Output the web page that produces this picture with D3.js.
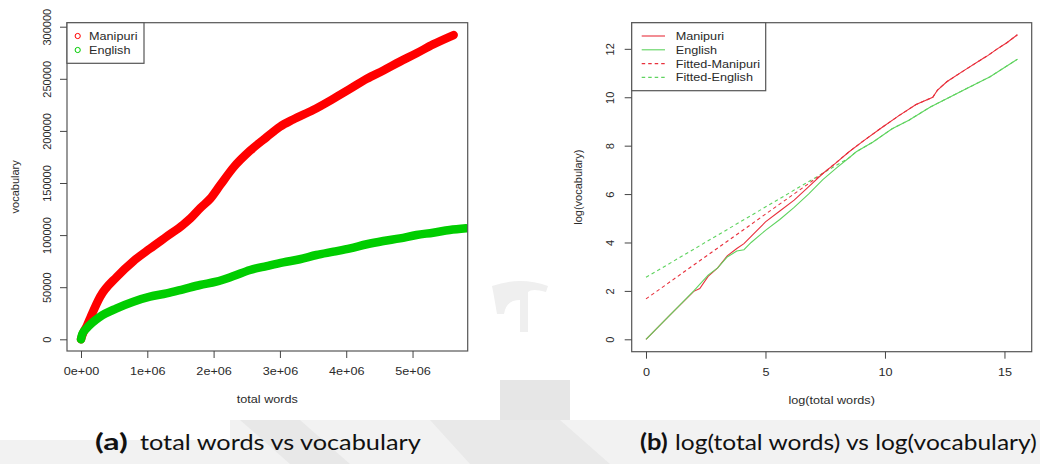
<!DOCTYPE html>
<html>
<head>
<meta charset="utf-8">
<script src="https://cdn.jsdelivr.net/npm/d3@7"></script>
<style>
  body { margin: 0; background: #fff; }
  svg { display: block; }
</style>
</head>
<body>
<svg id="chart" width="1040" height="464"></svg>
<script>
// ---- data ----

// (a) total words vs vocabulary
const manipuriWords = [0, 20000, 90000, 150000, 290000, 540000, 790000, 1040000, 1290000, 1540000, 1650000, 1800000, 1950000, 2100000, 2300000, 2550000, 2800000, 3000000, 3200000, 3500000, 3810000, 4050000, 4310000, 4560000, 4810000, 5060000, 5310000, 5620000];
const manipuriVocab = [0, 4000, 13000, 22000, 41000, 60000, 75000, 87000, 98500, 110000, 116000, 126000, 135000, 148000, 165000, 181000, 194000, 204000, 211000, 220000, 231000, 240000, 250000, 258000, 266500, 274500, 283000, 292000];

const englishWords = [0, 20000, 85000, 287000, 538000, 789000, 1040000, 1290000, 1540000, 1795000, 2040000, 2300000, 2550000, 2800000, 3050000, 3300000, 3550000, 3810000, 4060000, 4310000, 4560000, 4810000, 5060000, 5310000, 5560000, 5810000];
const englishVocab = [0, 5000, 10500, 21700, 29700, 36100, 40900, 44100, 48000, 52100, 55300, 60700, 66500, 70300, 73900, 76800, 80900, 84100, 87300, 91200, 94300, 96900, 100100, 102300, 104900, 106500];

// (b) log(total words) vs log(vocabulary)
const manipuriLogX = [0, 1, 2, 2.25, 2.6, 3.0, 3.4, 3.8, 4.1, 4.4, 5.0, 5.6, 6.2, 6.8, 7.4, 7.9, 8.5, 9.1, 9.8, 10.6, 11.3, 12.0, 12.2, 12.6, 13.3, 14.1, 14.3, 14.7, 15.1, 15.54];
const manipuriLogY = [0, 1.0, 1.98, 2.1, 2.6, 2.95, 3.45, 3.75, 3.95, 4.25, 4.85, 5.3, 5.75, 6.3, 6.85, 7.25, 7.75, 8.2, 8.7, 9.25, 9.7, 10.0, 10.3, 10.65, 11.1, 11.6, 11.72, 12.0, 12.25, 12.58];

const englishLogX = [0, 1, 2, 2.6, 3.0, 3.4, 3.8, 4.1, 4.4, 5.0, 5.6, 6.2, 6.8, 7.4, 8.0, 8.5, 8.8, 9.5, 10.3, 11.0, 11.9, 12.6, 13.4, 14.4, 15.54];
const englishLogY = [0, 1.0, 2.0, 2.65, 2.95, 3.4, 3.65, 3.7, 4.0, 4.5, 4.95, 5.45, 6.0, 6.6, 7.1, 7.5, 7.75, 8.15, 8.7, 9.05, 9.6, 9.95, 10.35, 10.85, 11.57];

const fittedManipuriX = [0, 7.4, 7.9, 8.5, 9.1, 9.8, 10.6, 11.3, 12.0, 12.2, 12.6, 13.3, 14.1, 14.3, 14.7, 15.1, 15.54];
const fittedManipuriY = [1.67, 6.85, 7.25, 7.75, 8.2, 8.7, 9.25, 9.7, 10.0, 10.3, 10.65, 11.1, 11.6, 11.72, 12.0, 12.25, 12.58];

const fittedEnglishX = [0, 8.5, 8.8, 9.5, 10.3, 11.0, 11.9, 12.6, 13.4, 14.4, 15.54];
const fittedEnglishY = [2.56, 7.5, 7.75, 8.15, 8.7, 9.05, 9.6, 9.95, 10.35, 10.85, 11.57];

// ticks
const leftXTicks = [0, 1e6, 2e6, 3e6, 4e6, 5e6];
const leftXLabels = ["0e+00", "1e+06", "2e+06", "3e+06", "4e+06", "5e+06"];
const leftYTicks = [0, 50000, 100000, 150000, 200000, 250000, 300000];
const rightXTicks = [0, 5, 10, 15];
const rightYTicks = [0, 2, 4, 6, 8, 10, 12];

const legendLeft = ["Manipuri", "English"];
const legendRight = ["Manipuri", "English", "Fitted-Manipuri", "Fitted-English"];

// ---- drawing ----
const svg = d3.select("#chart");
const font = "'Liberation Sans', Arial, Helvetica, sans-serif";
const ink = "#2a2a2a";
const stretch = 1.15;   // the picture is a bit wider than tall

const RED = "#ff0000", GREEN = "#00cd00";
const RED_LINE = "#e8303c", GREEN_LINE = "#5fd35f";

const zip = (xs, ys) => xs.map((v, i) => [v, ys[i]]);

// faint watermark behind everything
const wm = svg.append("g");
wm.append("path").attr("d", "M230,420 L1040,420 L1040,464 L0,464 L0,440 L230,440 Z").attr("fill", "#f2f2f2");
wm.append("path").attr("d", "M240,420 L300,420 L350,464 L290,464 Z").attr("fill", "#e8e8e8");
wm.append("path").attr("d", "M430,420 L560,420 L610,464 L470,464 Z").attr("fill", "#e9e9e9");
wm.append("path").attr("d", "M500,380 L570,380 L570,420 L500,420 Z").attr("fill", "#e6e6e6");
wm.append("path")
  .attr("d", "M492,286 Q520,276 548,286 L546,292 Q532,288 528,292 L528,332 L520,332 L520,300 Q506,300 504,314 L497,314 Q494,296 492,286 Z")
  .attr("fill", "#efefef");

function hText(g, x, y, str, anchor, size) {
  return g.append("text")
    .attr("transform", `translate(${x},${y}) scale(${stretch},1)`)
    .attr("text-anchor", anchor || "middle")
    .attr("font-family", font)
    .attr("font-size", size || 11)
    .attr("fill", ink)
    .text(str);
}

function vText(g, x, y, str, size) {
  return g.append("text")
    .attr("transform", `translate(${x},${y}) rotate(-90)`)
    .attr("text-anchor", "middle")
    .attr("font-family", font)
    .attr("font-size", size || 11)
    .attr("fill", ink)
    .text(str);
}

function styleAxis(g) {
  g.select(".domain").remove();
  g.selectAll(".tick line").attr("stroke", "#444");
  g.selectAll(".tick text")
    .attr("font-family", font)
    .attr("font-size", 11)
    .attr("fill", ink);
}

// ========== panel (a) ==========
const A = { left: 67, right: 467.7, top: 22.7, bottom: 351 };
const xA = d3.scaleLinear().domain([-0.211e6, 5.832e6]).range([A.left, A.right]);
const yA = d3.scaleLinear().domain([-11230, 303840]).range([A.bottom, A.top]);

svg.append("rect").attr("x", A.left).attr("y", A.top)
  .attr("width", A.right - A.left).attr("height", A.bottom - A.top).attr("fill", "#fff");

svg.append("clipPath").attr("id", "clipA")
  .append("rect").attr("x", A.left).attr("y", A.top)
  .attr("width", A.right - A.left).attr("height", A.bottom - A.top);

const lineA = d3.line().x(d => xA(d[0])).y(d => yA(d[1])).curve(d3.curveMonotoneX);
const gA = svg.append("g").attr("clip-path", "url(#clipA)");
gA.append("path").datum(zip(manipuriWords, manipuriVocab))
  .attr("d", lineA).attr("fill", "none").attr("stroke", RED)
  .attr("stroke-width", 8.5).attr("stroke-linecap", "round").attr("stroke-linejoin", "round");
gA.append("path").datum(zip(englishWords, englishVocab))
  .attr("d", lineA).attr("fill", "none").attr("stroke", GREEN)
  .attr("stroke-width", 8.5).attr("stroke-linecap", "round").attr("stroke-linejoin", "round");

// box
svg.append("rect").attr("x", A.left).attr("y", A.top)
  .attr("width", A.right - A.left).attr("height", A.bottom - A.top)
  .attr("fill", "none").attr("stroke", "#555").attr("stroke-width", 1.2);

// axes
const axAx = svg.append("g").attr("transform", `translate(0,${A.bottom})`)
  .call(d3.axisBottom(xA).tickValues(leftXTicks).tickSize(7).tickPadding(9.5)
    .tickFormat((d, i) => leftXLabels[i]));
styleAxis(axAx);
axAx.selectAll(".tick text").attr("transform", `scale(${stretch},1)`);

const axAy = svg.append("g").attr("transform", `translate(${A.left},0)`)
  .call(d3.axisLeft(yA).tickValues(leftYTicks).tickSize(7).tickFormat(d3.format("d")));
styleAxis(axAy);
axAy.selectAll(".tick text")
  .attr("x", 0).attr("y", -16).attr("dy", 0)
  .attr("text-anchor", "middle").attr("transform", "rotate(-90)");

hText(svg, (A.left + A.right) / 2, 403, "total words");
vText(svg, 19, (A.top + A.bottom) / 2, "vocabulary");

// legend (a)
const legA = svg.append("g");
legA.append("rect").attr("x", A.left).attr("y", A.top)
  .attr("width", 77).attr("height", 40.6)
  .attr("fill", "#fff").attr("stroke", "#555").attr("stroke-width", 1.2);
legendLeft.forEach((name, i) => {
  const cy = 36 + i * 14;
  legA.append("circle").attr("cx", 77.7).attr("cy", cy).attr("r", 2.6)
    .attr("fill", "none").attr("stroke", i === 0 ? RED : GREEN).attr("stroke-width", 1);
  hText(legA, 89, cy + 4, name, "start");
});

// ========== panel (b) ==========
const B = { left: 631.7, right: 1031.7, top: 22.7, bottom: 351.7 };
const xB = d3.scaleLinear().domain([-0.598, 16.14]).range([B.left, B.right]);
const yB = d3.scaleLinear().domain([-0.512, 13.08]).range([B.bottom, B.top]);

const lineB = d3.line().x(d => xB(d[0])).y(d => yB(d[1]));
const gB = svg.append("g");
gB.append("path").datum(zip(fittedEnglishX, fittedEnglishY))
  .attr("d", lineB).attr("fill", "none").attr("stroke", GREEN_LINE)
  .attr("stroke-width", 1.1).attr("stroke-dasharray", "3.5,3");
gB.append("path").datum(zip(fittedManipuriX, fittedManipuriY))
  .attr("d", lineB).attr("fill", "none").attr("stroke", RED_LINE)
  .attr("stroke-width", 1.1).attr("stroke-dasharray", "3.5,3");
gB.append("path").datum(zip(manipuriLogX, manipuriLogY))
  .attr("d", lineB).attr("fill", "none").attr("stroke", RED_LINE).attr("stroke-width", 1.1);
gB.append("path").datum(zip(englishLogX, englishLogY))
  .attr("d", lineB).attr("fill", "none").attr("stroke", GREEN_LINE).attr("stroke-width", 1.1);

svg.append("rect").attr("x", B.left).attr("y", B.top)
  .attr("width", B.right - B.left).attr("height", B.bottom - B.top)
  .attr("fill", "none").attr("stroke", "#555").attr("stroke-width", 1.2);

const axBx = svg.append("g").attr("transform", `translate(0,${B.bottom})`)
  .call(d3.axisBottom(xB).tickValues(rightXTicks).tickSize(7).tickPadding(9.5));
styleAxis(axBx);
axBx.selectAll(".tick text").attr("transform", `scale(${stretch},1)`);

const axBy = svg.append("g").attr("transform", `translate(${B.left},0)`)
  .call(d3.axisLeft(yB).tickValues(rightYTicks).tickSize(7));
styleAxis(axBy);
axBy.selectAll(".tick text")
  .attr("x", 0).attr("y", -17.7).attr("dy", 0)
  .attr("text-anchor", "middle").attr("transform", "rotate(-90)");

hText(svg, (B.left + B.right) / 2, 404, "log(total words)");
vText(svg, 582, (B.top + B.bottom) / 2, "log(vocabulary)");

// legend (b)
const legB = svg.append("g");
legB.append("rect").attr("x", B.left).attr("y", B.top)
  .attr("width", 134).attr("height", 68)
  .attr("fill", "#fff").attr("stroke", "#555").attr("stroke-width", 1.2);
legendRight.forEach((name, i) => {
  const cy = 36 + i * 13.8;
  legB.append("line").attr("x1", 641.7).attr("x2", 665).attr("y1", cy).attr("y2", cy)
    .attr("stroke", i % 2 === 0 ? RED_LINE : GREEN_LINE).attr("stroke-width", 1.1)
    .attr("stroke-dasharray", i < 2 ? null : "3.5,3");
  hText(legB, 675.7, cy + 4, name, "start");
});

// ========== captions ==========
const capFont = "Lato, 'Open Sans', sans-serif";
function caption(x1, w1, label, x2, w2, text) {
  svg.append("text").attr("x", x1).attr("y", 450)
    .attr("font-family", capFont).attr("font-size", 22).attr("font-weight", "bold")
    .attr("fill", "#111").attr("textLength", w1).attr("lengthAdjust", "spacingAndGlyphs")
    .text(label);
  svg.append("text").attr("x", x2).attr("y", 450)
    .attr("font-family", capFont).attr("font-size", 22)
    .attr("fill", "#111").attr("textLength", w2).attr("lengthAdjust", "spacingAndGlyphs")
    .text(text);
}
caption(95, 32.7, "(a)", 140, 280.7, "total words vs vocabulary");
caption(640, 27.7, "(b)", 675, 361.7, "log(total words) vs log(vocabulary)");
</script>
</body>
</html>
